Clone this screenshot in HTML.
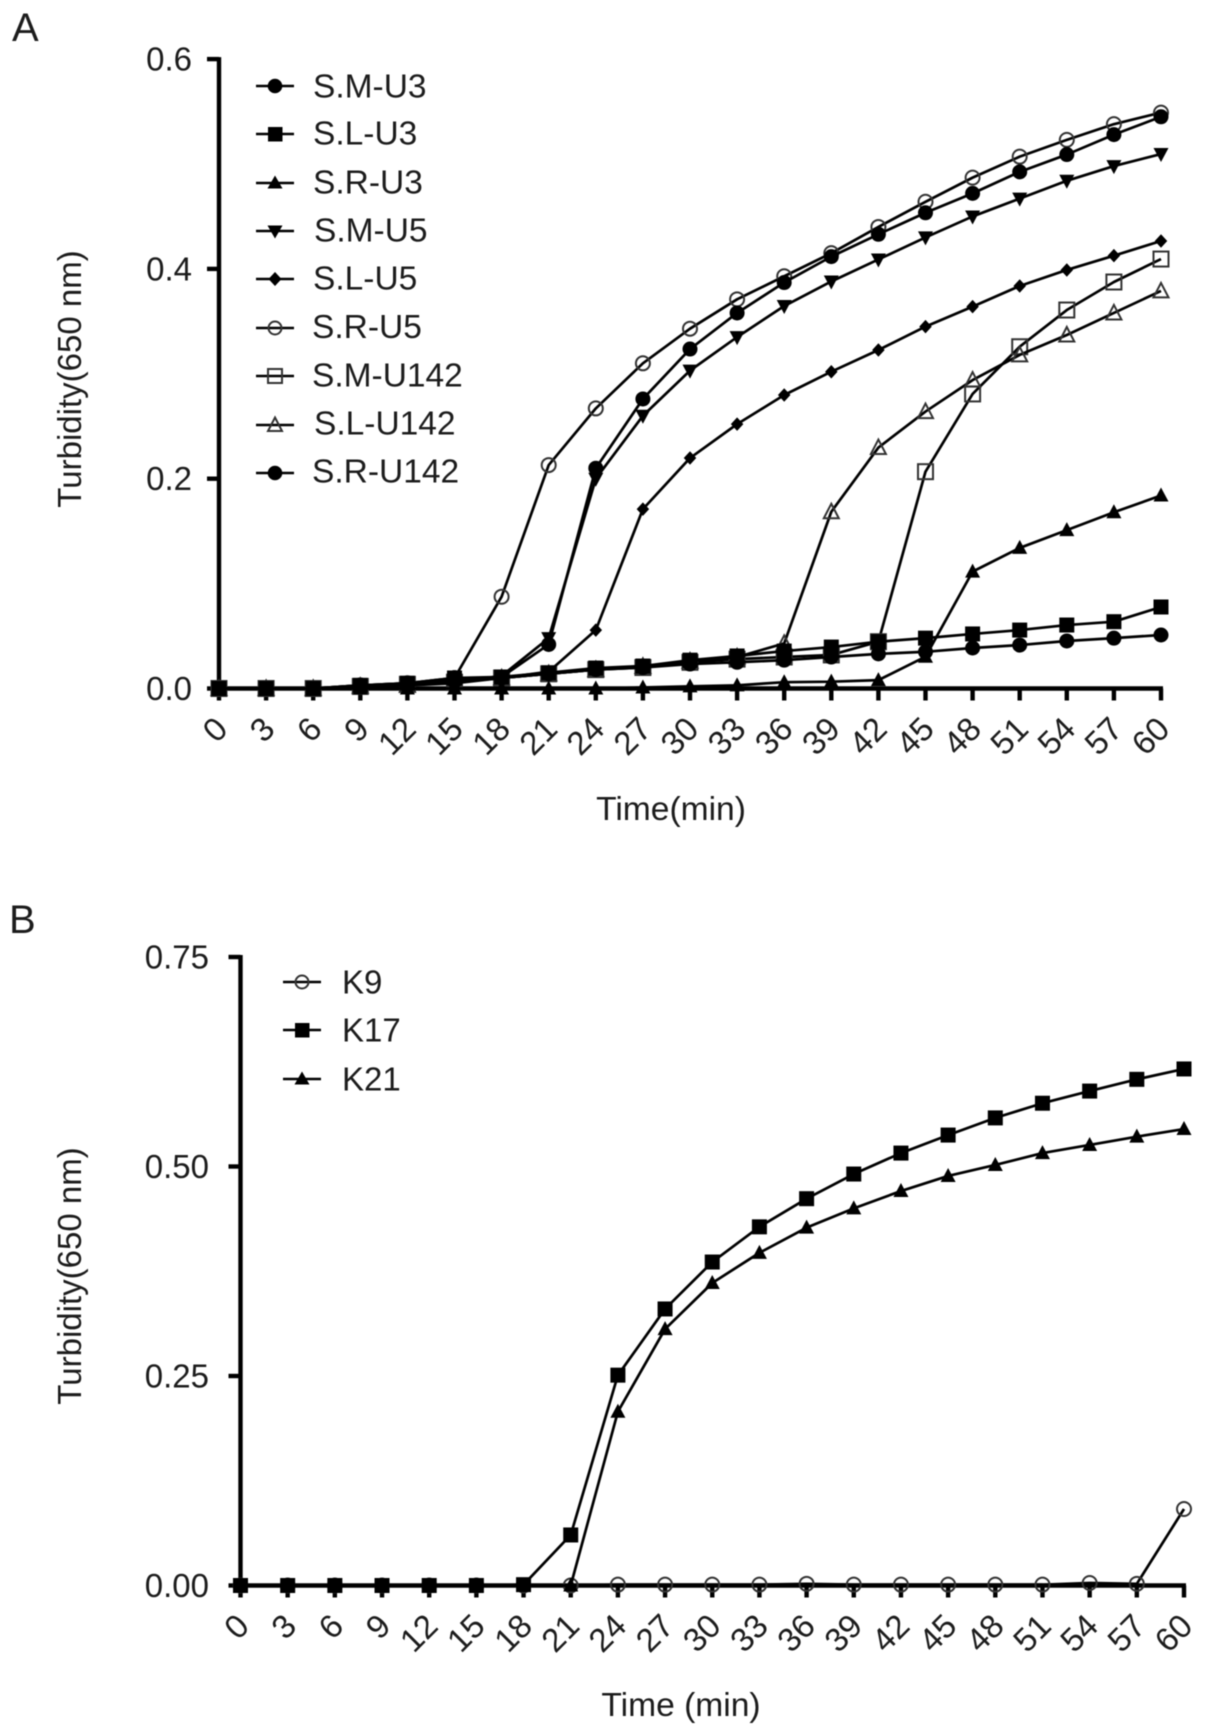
<!DOCTYPE html>
<html lang="en">
<head>
<meta charset="utf-8">
<title>Turbidity time courses</title>
<style>
  html, body { margin: 0; padding: 0; background: #fff; }
  #figure { display: block; width: 1205px; height: 1736px; filter: blur(0.5px); }
  text { font-family: "Liberation Sans", Arial, sans-serif; font-size: 33px; fill: #1c1c1c; }
  .panel-letter { font-size: 40px; }
  .legend-a text { font-size: 33.5px; }
  .x-title { font-size: 33.6px; }
  .lg { stroke: #000; stroke-width: 2.6; fill: none; }
  .mk { fill: #000; }
  .op { fill: none; stroke: #333; stroke-width: 2; }
</style>
</head>
<body>
<svg id="figure" xmlns="http://www.w3.org/2000/svg" width="1205" height="1736" viewBox="0 0 1205 1736">
  <rect x="0" y="0" width="1205" height="1736" fill="#fff"/>

  <g id="panelA">
    <text class="panel-letter" x="12" y="41">A</text>
    <text x="0" y="0" text-anchor="middle" transform="translate(81 379) rotate(-90)">Turbidity(650 nm)</text>
    <text class="x-title" x="671" y="820" text-anchor="middle">Time(min)</text>
    <g class="legend-a">
      <g><line class="lg" x1="256" x2="294" y1="86" y2="86"/><circle class="mk" cx="275" cy="86" r="7.3"/><text x="313" y="97.3">S.M-U3</text></g>
      <g><line class="lg" x1="256" x2="294" y1="134" y2="134"/><rect class="mk" x="268" y="127" width="14.5" height="14.5"/><text x="313" y="144.3">S.L-U3</text></g>
      <g><line class="lg" x1="256" x2="294" y1="183" y2="183"/><polygon class="mk" points="275,175.5 282.5,188.5 267.5,188.5"/><text x="313" y="193.5">S.R-U3</text></g>
      <g><line class="lg" x1="256" x2="294" y1="231" y2="231"/><polygon class="mk" points="275,238.5 282.5,225.5 267.5,225.5"/><text x="314" y="241.7">S.M-U5</text></g>
      <g><line class="lg" x1="256" x2="294" y1="279" y2="279"/><polygon class="mk" points="275,272 281.5,279 275,286 268.5,279"/><text x="313" y="289.5">S.L-U5</text></g>
      <g><line class="lg" x1="256" x2="294" y1="328" y2="328"/><circle class="op" cx="275" cy="328" r="6.5"/><text x="312" y="338">S.R-U5</text></g>
      <g><line class="lg" x1="256" x2="294" y1="376" y2="376"/><rect class="op" x="268" y="369" width="14" height="14"/><text x="312" y="386.7">S.M-U142</text></g>
      <g><line class="lg" x1="256" x2="294" y1="425" y2="425"/><polygon class="op" points="275,417.5 282,431 268,431"/><text x="314" y="434.5">S.L-U142</text></g>
      <g><line class="lg" x1="256" x2="294" y1="473" y2="473"/><circle class="mk" cx="275" cy="473" r="7.3"/><text x="312" y="482.5">S.R-U142</text></g>
    </g>
  </g>

  <g id="panelB">
    <text class="panel-letter" x="9" y="933">B</text>
    <text x="0" y="0" text-anchor="middle" transform="translate(81 1276) rotate(-90)">Turbidity(650 nm)</text>
    <text class="x-title" x="681" y="1716" text-anchor="middle">Time (min)</text>
    <g>
      <g><line class="lg" x1="283" x2="321" y1="982" y2="982"/><circle class="op" cx="302" cy="982" r="6.5"/><text x="342" y="993.5">K9</text></g>
      <g><line class="lg" x1="283" x2="321" y1="1030" y2="1030"/><rect class="mk" x="295" y="1023" width="14.5" height="14.5"/><text x="342" y="1041.5">K17</text></g>
      <g><line class="lg" x1="283" x2="321" y1="1079" y2="1079"/><polygon class="mk" points="302,1071.5 309.5,1084.5 294.5,1084.5"/><text x="342" y="1090.5">K21</text></g>
    </g>
  </g>
</svg>

<script>
// ---- shared x categories ----
const categories = [0, 3, 6, 9, 12, 15, 18, 21, 24, 27, 30, 33, 36, 39, 42, 45, 48, 51, 54, 57, 60];
const xTickLabels = ["0","3","6","9","12","15","18","21","24","27","30","33","36","39","42","45","48","51","54","57","60"];

// ---- panel A values ----
const yTicksA = [0, 0.2, 0.4, 0.6];
const yTickLabelsA = ["0.0", "0.2", "0.4", "0.6"];
const smU3   = [0,0,0,.003,.005,.008,.01,.014,.018,.02,.0233,.025,.027,.03,.033,.035,.0386,.0414,.0453,.048,.051];
const slU3   = [0,0,0,.003,.005,.01,.011,.015,.0195,.0214,.027,.031,.0357,.0395,.0446,.048,.052,.0557,.0605,.0637,.0777];
const srU3   = [0,0,0,0,0,0,0,0,0,.001,.002,.003,.006,.0065,.008,.0303,.1114,.134,.151,.168,.184];
const smU5   = [0,0,0,.002,.004,.006,.012,.048,.2,.26,.303,.335,.3646,.388,.409,.43,.45,.467,.484,.498,.5095];
const slU5   = [0,0,0,.002,.004,.006,.01,.016,.0557,.171,.2197,.252,.2798,.302,.3227,.345,.364,.3837,.399,.4126,.4266];
const srU5   = [0,0,0,.003,.005,.01,.0875,.213,.267,.31,.343,.371,.393,.415,.44,.464,.487,.507,.523,.538,.549];
const smU142 = [0,0,0,.002,.004,.006,.01,.014,.018,.02,.025,.028,.03,.032,.0446,.2067,.2808,.3258,.3608,.3875,.4094];
const slU142 = [0,0,0,.002,.003,.005,.01,.014,.018,.021,.026,.03,.043,.1685,.2297,.264,.294,.318,.337,.358,.379];
const srU142 = [0,0,0,.002,.004,.007,.011,.042,.21,.276,.3236,.358,.387,.4117,.433,.4535,.472,.4925,.509,.528,.545];

// ---- panel B values ----
const yTicksB = [0, 0.25, 0.5, 0.75];
const yTickLabelsB = ["0.00", "0.25", "0.50", "0.75"];
const k9  = [0,0,0,0,0,0,0,0,.001,.001,.001,.001,.002,.001,.001,.001,.001,.001,.003,.002,.0913];
const k17 = [0,0,0,0,0,0,.001,.0603,.251,.33,.386,.428,.4616,.491,.516,.5375,.558,.5755,.59,.604,.6164];
const k21 = [0,0,0,0,0,0,0,0,.2074,.306,.361,.397,.427,.45,.4707,.4887,.5018,.516,.5257,.5356,.5447];

const SVG_NS = "http://www.w3.org/2000/svg";

function el(parent, tag, attrs) {
  const node = document.createElementNS(SVG_NS, tag);
  for (const k in attrs) node.setAttribute(k, attrs[k]);
  parent.appendChild(node);
  return node;
}

// axis functions
function scaleX(x0, pxPerUnit) { return function (t) { return x0 + t * pxPerUnit; }; }
function scaleY(y0, pxPerUnit) { return function (v) { return y0 - v * pxPerUnit; }; }

const xA = scaleX(219, 15.7);
const yA = scaleY(688.5, 1049);
const xB = scaleX(240.5, 15.725);
const yB = scaleY(1585.5, 838);

function drawAxes(panel, x, y, yTicks, yLabels, yMaxValue, labelRight, prefix) {
  const axes = el(panel, "g", {});
  
  

  const yLine = el(axes, "line", { x1: x(0), x2: x(0), y1: y(yMaxValue) - 2, y2: y(0) + 2, stroke: "#000", "stroke-width": 4.4 });
  
  

  const xLine = el(axes, "line", { x1: x(0) - 2, x2: x(60) + 2, y1: y(0), y2: y(0), stroke: "#000", "stroke-width": 4.6 });
  
  

  yTicks.forEach(function (v, i) {
    const tick = el(axes, "line", { x1: x(0) - 12, x2: x(0), y1: y(v), y2: y(v), stroke: "#000", "stroke-width": 4.4 });
    
    

    const label = el(axes, "text", { x: labelRight, y: y(v) + 11.5, "text-anchor": "end" });
    
    
    label.textContent = yLabels[i];
  });

  categories.forEach(function (t, i) {
    const tick = el(axes, "line", { x1: x(t), x2: x(t), y1: y(0), y2: y(0) + 12, stroke: "#000", "stroke-width": 4.4 });
    
    

    const ax = x(t) + 10.5;
    const ay = y(0) + 42.5;
    const label = el(axes, "text", { x: 0, y: 0, "text-anchor": "end", transform: "translate(" + ax + " " + ay + ") rotate(-45)" });
    
    
    label.textContent = xTickLabels[i];
  });
}

function drawMarker(parent, shape, cx, cy, size) {
  const s = size / 2;
  const filled = { fill: "#000" };
  const open = { fill: "none", stroke: "#333", "stroke-width": 2 };
  if (shape === "circle") return el(parent, "circle", Object.assign({ cx: cx, cy: cy, r: s }, filled));
  if (shape === "square") return el(parent, "rect", Object.assign({ x: cx - s, y: cy - s, width: size, height: size }, filled));
  if (shape === "triangle") return el(parent, "polygon", Object.assign({ points: cx + "," + (cy - s - 0.5) + " " + (cx + s) + "," + (cy + s - 1.5) + " " + (cx - s) + "," + (cy + s - 1.5) }, filled));
  if (shape === "triangleDown") return el(parent, "polygon", Object.assign({ points: cx + "," + (cy + s + 0.5) + " " + (cx + s) + "," + (cy - s + 1.5) + " " + (cx - s) + "," + (cy - s + 1.5) }, filled));
  if (shape === "diamond") return el(parent, "polygon", Object.assign({ points: cx + "," + (cy - s) + " " + (cx + s - 0.5) + "," + cy + " " + cx + "," + (cy + s) + " " + (cx - s + 0.5) + "," + cy }, filled));
  if (shape === "openCircle") return el(parent, "circle", Object.assign({ cx: cx, cy: cy, r: s - 0.5 }, open));
  if (shape === "openSquare") return el(parent, "rect", Object.assign({ x: cx - s, y: cy - s, width: size, height: size }, open));
  return el(parent, "polygon", Object.assign({ points: cx + "," + (cy - s - 0.5) + " " + (cx + s) + "," + (cy + s - 1) + " " + (cx - s) + "," + (cy + s - 1) }, open));
}

function drawSeries(panel, values, shape, size, x, y, seriesName) {
  const group = el(panel, "g", {});
  
  

  const pts = categories.map(function (t, i) { return x(t) + "," + y(values[i]); }).join(" ");
  const line = el(group, "polyline", { points: pts, fill: "none", stroke: "#000", "stroke-width": 2.7, "stroke-linejoin": "round" });
  
  

  categories.forEach(function (t, i) {
    const mark = drawMarker(group, shape, x(t), y(values[i]), size);
    
    
  });
}

const panelA = document.getElementById("panelA");
const panelB = document.getElementById("panelB");

drawAxes(panelA, xA, yA, yTicksA, yTickLabelsA, 0.6, 192, "panel-a");
drawSeries(panelA, srU5, "openCircle", 15, xA, yA, "series-s-r-u5");
drawSeries(panelA, smU142, "openSquare", 15, xA, yA, "series-s-m-u142");
drawSeries(panelA, slU142, "openTriangle", 15, xA, yA, "series-s-l-u142");
drawSeries(panelA, srU3, "triangle", 15, xA, yA, "series-s-r-u3");
drawSeries(panelA, smU5, "triangleDown", 15, xA, yA, "series-s-m-u5");
drawSeries(panelA, slU5, "diamond", 13.5, xA, yA, "series-s-l-u5");
drawSeries(panelA, smU3, "circle", 15, xA, yA, "series-s-m-u3");
drawSeries(panelA, slU3, "square", 15, xA, yA, "series-s-l-u3");
drawSeries(panelA, srU142, "circle", 15, xA, yA, "series-s-r-u142");

drawAxes(panelB, xB, yB, yTicksB, yTickLabelsB, 0.75, 209, "panel-b");
drawSeries(panelB, k9, "openCircle", 15, xB, yB, "series-k9");
drawSeries(panelB, k17, "square", 15, xB, yB, "series-k17");
drawSeries(panelB, k21, "triangle", 15, xB, yB, "series-k21");
</script>
</body>
</html>
